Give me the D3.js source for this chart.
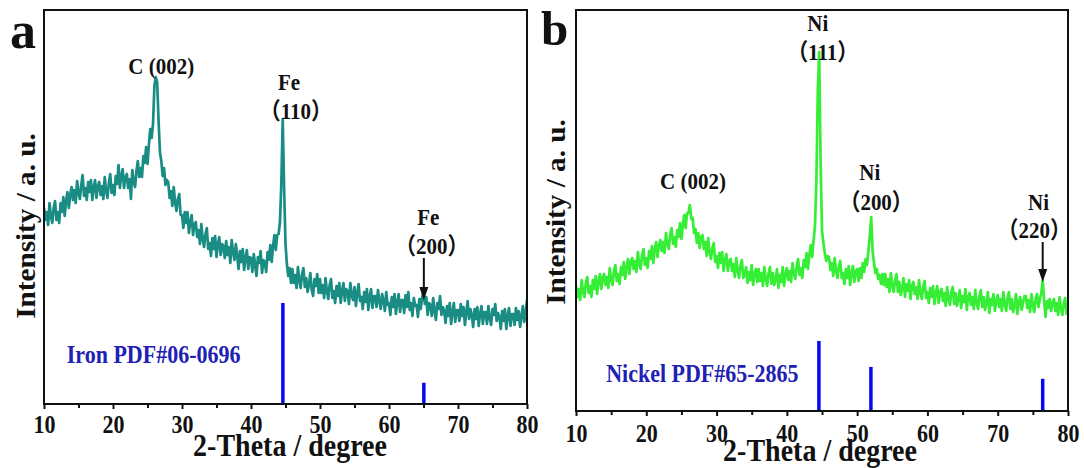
<!DOCTYPE html>
<html>
<head>
<meta charset="utf-8">
<script src="https://cdn.jsdelivr.net/npm/d3@7"></script>
<style>
body { margin: 0; background: #fff; }
svg { display: block; background: #fff; }
text { font-family: "Liberation Serif", "Times New Roman", "Noto Sans CJK SC", serif; font-weight: bold; }
</style>
</head>
<body>
<svg width="1084" height="468"></svg>
<script>
// 2-theta grid: 10.0 .. 80.0, step 0.2 (351 points per scan)
var thetaStart = 10;
var thetaStep = 0.2;
var xTicks = [10, 20, 30, 40, 50, 60, 70, 80];
var xMinorTicks = [15, 25, 35, 45, 55, 65, 75];

// panel a, Fe sample (a.u.)
var ironCounts = [
    196,184,192,179,201,188,181,196,203,184,
    192,181,201,192,207,188,203,212,196,209,
    217,204,214,201,223,211,205,219,229,208,
    216,204,222,212,224,204,216,224,206,218,
    222,209,218,205,227,213,206,221,230,211,
    219,209,228,220,239,216,228,235,216,227,
    230,216,225,205,234,222,217,233,243,227,
    236,227,248,241,257,240,259,275,266,280,
    318,327,322,284,252,243,228,236,219,224,
    222,206,213,198,217,202,193,205,210,189,
    189,176,192,181,192,171,182,189,169,180,
    182,167,174,160,180,165,157,170,176,155,
    161,148,166,155,168,147,160,167,149,160,
    158,146,163,149,157,141,164,152,144,160,
    148,135,153,142,155,134,146,154,135,147,
    146,132,150,139,128,147,141,153,131,144,
    142,132,152,144,159,142,158,169,154,169,
    170,182,222,285,215,160,140,128,136,121,
    135,121,129,116,137,123,116,130,136,117,
    126,112,119,131,114,108,125,118,130,111,
    125,111,119,106,126,113,105,119,125,106,
    113,101,118,108,121,101,113,121,103,115,
    113,100,121,108,104,117,98,111,120,103,
    107,95,112,102,115,94,107,115,96,108,
    108,97,114,103,95,110,104,93,112,99,
    101,89,107,97,110,90,102,110,92,104,
    104,91,109,97,112,94,101,88,106,98,
    99,87,105,95,107,112,100,107,89,101,
    99,88,106,93,84,101,95,108,89,97,
    93,81,98,88,101,80,92,101,82,94,
    94,83,100,88,97,79,92,103,85,95,
    89,77,95,85,97,78,90,98,80,92,
    92,80,98,86,79,95,89,100,83,91,
    87,75,93,83,95,75,88,96,78,90,
    90,79,96,84,93,77,88,98,82,91,
    104
];

// panel b, Ni sample (a.u.)
var nickelCounts = [
    125,114,122,111,131,119,114,128,134,118,
    125,114,131,122,135,117,130,137,122,133,
    137,126,134,123,143,131,126,140,146,130,
    137,127,144,136,149,132,144,152,137,149,
    153,142,150,139,159,147,142,156,162,146,
    153,143,160,152,165,148,161,169,154,166,
    171,160,169,158,178,167,162,176,183,167,
    174,164,181,174,188,172,186,196,183,198,
    198,206,192,193,178,182,168,178,163,174,
    176,162,169,155,173,159,152,163,168,149,
    155,143,158,148,159,140,151,157,140,150,
    152,140,147,134,153,140,133,146,151,133,
    136,144,128,139,131,146,126,137,142,129,
    142,130,138,125,144,132,125,138,144,127,
    138,126,131,142,123,136,129,144,125,137,
    143,131,140,129,148,137,132,145,152,136,
    143,133,151,144,158,142,156,166,154,170,
    185,230,320,359,250,180,168,158,150,155,
    154,141,148,135,153,140,133,145,150,133,
    138,127,142,133,145,126,138,145,129,140,
    142,130,143,133,148,139,152,146,160,175,
    194,160,148,138,142,132,136,127,137,126,
    137,124,132,119,138,125,119,131,137,119,
    129,116,122,133,114,127,120,131,112,125,
    129,117,124,112,131,118,112,125,130,113,
    119,108,123,114,125,107,118,125,108,119,
    122,110,118,105,124,112,106,119,124,107,
    118,105,112,121,103,115,109,122,101,114,
    118,106,114,102,121,108,102,115,121,104,
    114,101,108,119,98,112,106,117,100,110,
    116,104,112,100,119,107,100,113,119,102,
    112,99,106,117,97,109,114,101,108,115,
    115,103,111,99,117,105,99,112,117,104,
    112,118,131,110,94,110,103,112,100,108,
    112,100,108,96,114,102,96,108,113,97,
    108
];

// reference patterns (relative intensity)
var ironRefTheta = [44.62, 65.05];
var ironRefHeight = [100, 21];
var nickelRefTheta = [44.56, 51.96, 76.4];
var nickelRefHeight = [100, 63, 46];

// peak labels: [text, 2theta, level]
var ironNotes = [
    ['C (002)', 27.0, 330],
    ['Fe', 45.5, 314],
    ['（110）', 46.5, 285],
    ['Fe', 65.7, 179],
    ['（200）', 66.2, 150]
];
var nickelNotes = [
    ['Ni', 44.4, 380],
    ['（111）', 45.1, 351],
    ['C (002)', 26.65, 222],
    ['Ni', 51.8, 231],
    ['（200）', 52.7, 201],
    ['Ni', 75.8, 201],
    ['（220）', 75.2, 173]
];
// arrows: [2theta, from level, to level]
var ironArrows = [[65.05, 146, 104]];
var nickelArrows = [[76.4, 169, 129]];

// the source figure is slightly stretched vertically
var stretch = 1.12;

var svg = d3.select('svg');

function addText(g, x, y, size, str, k) {
    return g.append('text')
        .attr('transform', 'translate(' + x + ',' + y + ') scale(1,' + (k || stretch) + ')')
        .attr('fill', '#111')
        .style('font-size', size + 'px')
        .text(str);
}

function drawPanel(p) {
    var x = d3.scaleLinear().domain([10, 80]).range([p.left, p.right]);
    var y = d3.scaleLinear().domain([0, p.yMax]).range([p.bottom, p.top]);
    var stick = d3.scaleLinear().domain([0, 100]).range([p.bottom, p.bottom - p.stickMax]);
    var g = svg.append('g');

    g.append('clipPath').attr('id', 'clip-' + p.name)
        .append('rect')
        .attr('x', p.left).attr('y', p.top)
        .attr('width', p.right - p.left).attr('height', p.bottom - p.top);

    var line = d3.line()
        .x(function(d, i) { return x(thetaStart + i * thetaStep); })
        .y(function(d) { return y(d); });

    g.append('path')
        .datum(p.counts)
        .attr('clip-path', 'url(#clip-' + p.name + ')')
        .attr('fill', 'none')
        .attr('stroke', p.color)
        .attr('stroke-width', 2.7)
        .attr('stroke-linejoin', 'round')
        .attr('d', line);

    // reference sticks
    g.selectAll('.stick')
        .data(p.refTheta)
        .enter()
        .append('line')
        .attr('class', 'stick')
        .attr('x1', function(d) { return x(d); })
        .attr('x2', function(d) { return x(d); })
        .attr('y1', p.bottom)
        .attr('y2', function(d, i) { return stick(p.refHeight[i]); })
        .attr('stroke', '#0808f0')
        .attr('stroke-width', 3.5);

    addText(g, x(p.legend[1]), y(p.legend[2]), 22, p.legend[0])
        .attr('fill', '#2020b4');

    // axis ticks
    var major = g.append('g')
        .attr('transform', 'translate(0,' + p.bottom + ')')
        .call(d3.axisBottom(x).tickValues(xTicks).tickSize(5).tickFormat(d3.format('d')));
    var minor = g.append('g')
        .attr('transform', 'translate(0,' + p.bottom + ')')
        .call(d3.axisBottom(x).tickValues(xMinorTicks).tickSize(4).tickFormat(''));
    [major, minor].forEach(function(a) {
        a.select('.domain').remove();
        a.selectAll('line').attr('stroke', '#111').attr('stroke-width', 2);
    });
    major.selectAll('text')
        .attr('y', 0)
        .attr('dy', 0)
        .attr('transform', 'translate(0,' + p.tickLabelY + ') scale(1,' + stretch + ')')
        .attr('fill', '#111')
        .style('font-size', '22px');

    // frame
    g.append('rect')
        .attr('x', p.left).attr('y', p.top)
        .attr('width', p.right - p.left).attr('height', p.bottom - p.top)
        .attr('fill', 'none')
        .attr('stroke', '#111')
        .attr('stroke-width', 2);

    // peak labels
    p.notes.forEach(function(d) {
        addText(g, x(d[1]), y(d[2]), 21, d[0]).attr('text-anchor', 'middle');
    });

    // arrows
    p.arrows.forEach(function(a) {
        var ax = x(a[0]), y0 = y(a[1]), y1 = y(a[2]);
        g.append('line')
            .attr('x1', ax).attr('x2', ax)
            .attr('y1', y0).attr('y2', y1 - 10)
            .attr('stroke', '#111').attr('stroke-width', 2);
        g.append('path')
            .attr('d', 'M' + (ax - 4.5) + ',' + (y1 - 13) + 'L' + (ax + 4.5) + ',' + (y1 - 13) + 'L' + ax + ',' + y1 + 'Z')
            .attr('fill', '#111');
    });

    // titles
    addText(g, p.xTitleX, p.xTitleY, 28, '2-Theta / degree').attr('text-anchor', 'middle');

    g.append('text')
        .attr('transform', 'translate(' + p.yTitleX + ',' + p.yTitleY + ') rotate(-90) scale(1.08,1)')
        .attr('text-anchor', 'middle')
        .attr('fill', '#111')
        .style('font-size', '27px')
        .text('Intensity / a. u.');

    // panel letter
    addText(g, p.letterX, p.letterY, p.letterSize, p.name, 1);
}

drawPanel({
    name: 'a',
    left: 44, right: 527, top: 10, bottom: 404,
    yMax: 394, stickMax: 101,
    counts: ironCounts, color: '#198c84',
    refTheta: ironRefTheta, refHeight: ironRefHeight,
    legend: ['Iron PDF#06-0696', 13.3, 41],
    notes: ironNotes, arrows: ironArrows,
    tickLabelY: 29,
    xTitleX: 290, xTitleY: 456,
    yTitleX: 35, yTitleY: 226,
    letterX: 10, letterY: 48, letterSize: 52
});

drawPanel({
    name: 'b',
    left: 576, right: 1068, top: 10, bottom: 411,
    yMax: 401, stickMax: 70,
    counts: nickelCounts, color: '#36ee36',
    refTheta: nickelRefTheta, refHeight: nickelRefHeight,
    legend: ['Nickel PDF#65-2865', 14.3, 29],
    notes: nickelNotes, arrows: nickelArrows,
    tickLabelY: 31,
    xTitleX: 820, xTitleY: 461,
    yTitleX: 565, yTitleY: 212,
    letterX: 541, letterY: 45, letterSize: 49
});
</script>
</body>
</html>
